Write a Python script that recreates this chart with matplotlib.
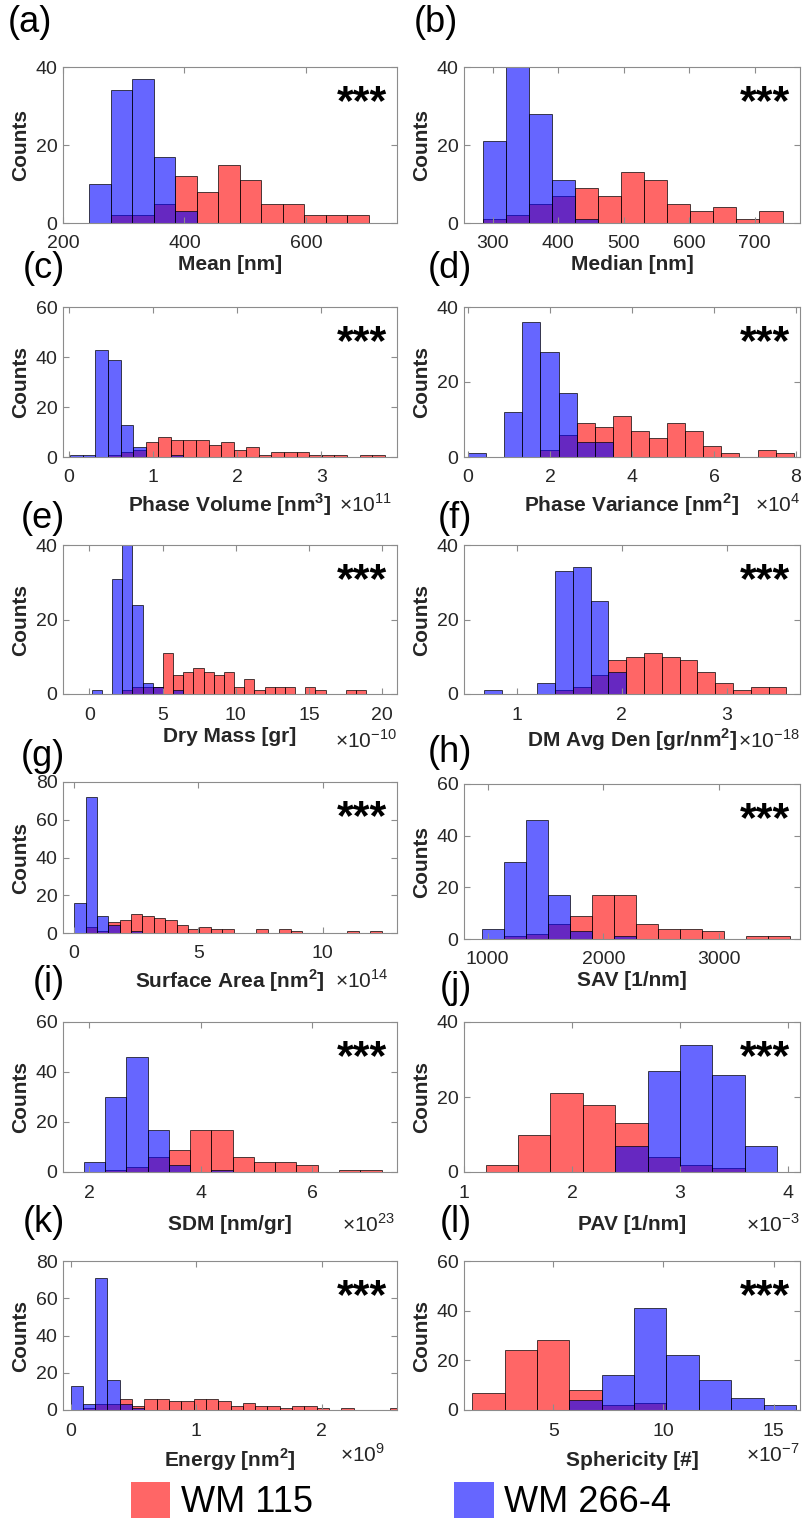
import numpy as np
import matplotlib.pyplot as plt
from matplotlib.patches import Patch

plt.rcParams['font.family'] = ['Liberation Sans', 'DejaVu Sans']
plt.rcParams['mathtext.fontset'] = 'custom'
plt.rcParams['mathtext.rm'] = 'Liberation Sans'
plt.rcParams['mathtext.bf'] = 'Liberation Sans:bold'

W, H = 802, 1533
nan = np.nan

# (a) Mean [nm]
mean_edges = 207.5 + 35.45 * np.arange(15)
mean_red = [nan, nan, 2, 2, 5, 12, 8, 15, 11, 5, 5, 2, 2, 2]
mean_blue = [0, 10, 34, 37, 17, 3] + [nan] * 8

# (b) Median [nm]
median_edges = 249.5 + 35.2 * np.arange(15)
median_red = [nan, 1, 2, 5, 7, 9, 7, 13, 11, 5, 3, 4, 1, 3]
median_blue = [0, 21, 40, 28, 11, 1] + [nan] * 8

# (c) Phase Volume x1e11
pvol_edges = 0.016 + 0.1495 * np.arange(26)
pvol_red = [nan] * 3 + [1, 2, 3, 6, 8, 7, 7, 7, 5, 6, 3, 4, 1, 2, 2, 2, 1, 1, 1, 0, 1, 1]
pvol_blue = [1, 1, 43, 39, 13, 4, 0, 0, 1] + [nan] * 16

# (d) Phase Variance x1e4
pvar_edges = 0.4415 * np.arange(19)
pvar_red = [nan] * 4 + [2, 6, 9, 8, 11, 7, 5, 9, 7, 3, 1, 0, 2, 1]
pvar_blue = [1, 0, 12, 36, 28, 17, 4, 4] + [nan] * 10

# (e) Dry Mass x1e-10
dm_edges = 0.16 + 0.694 * np.arange(28)
dm_red = [nan] * 3 + [1, 2, 2, 2, 11, 5, 6, 7, 6, 5, 6, 2, 4, 1, 2, 2, 2, 0, 2, 1, 0, 0, 1, 1]
dm_blue = [1, 0, 31, 40, 24, 3, 2, 0, 1] + [nan] * 18

# (f) DM Avg Den x1e-18
den_edges = 0.689 + 0.1695 * np.arange(18)
den_red = [nan] * 4 + [1, 2, 5, 9, 10, 11, 10, 9, 6, 3, 1, 2, 2]
den_blue = [1, 0, 0, 3, 33, 34, 25, 6] + [nan] * 9

# (g) Surface Area x1e14
sa_edges = 0.4585 * np.arange(28)
sa_red = [nan, 3, 1, 6, 7, 10, 9, 8, 7, 4, 2, 3, 2, 2, 0, 0, 2, 0, 2, 1, 0, 0, 0, 0, 1, 0, 1]
sa_blue = [16, 72, 9, 4, 0, 1] + [nan] * 21

# (h) SAV [1/nm]
sav_edges = 954 + 190 * np.arange(15)
sav_red = [nan, 1, 2, 6, 9, 17, 17, 6, 4, 4, 3, 0, 1, 1]
sav_blue = [4, 30, 46, 17, 3, 0, 1] + [nan] * 7

# (i) SDM x1e23
sdm_edges = 1.904 + 0.3813 * np.arange(15)
sdm_red = [nan, 1, 2, 6, 9, 17, 17, 6, 4, 4, 3, 0, 1, 1]
sdm_blue = [4, 30, 46, 17, 3, 0, 1] + [nan] * 7

# (j) PAV x1e-3
pav_edges = 1.2 + 0.3 * np.arange(11)
pav_red = [2, 10, 21, 18, 13, 4, 2, 1, nan, nan]
pav_blue = [nan] * 4 + [7, 27, 34, 26, 7, 0]

# (k) Energy x1e9
en_edges = 0.0 + 0.098 * np.arange(28)
en_red = [nan, 1, 3, 3, 6, 2, 6, 6, 5, 5, 6, 6, 5, 2, 4, 2, 2, 1, 2, 2, 1, 0, 1, 0, 0, 0, 1]
en_blue = [13, 3, 71, 16, 3, 1] + [nan] * 21

# (l) Sphericity x1e-7
sph_edges = 1.32 + 1.47 * np.arange(11)
sph_red = [7, 24, 28, 8, 2, 3, nan, nan, nan, nan]
sph_blue = [nan, nan, nan, 4, 14, 41, 22, 12, 5, 2]

panels = [
    # letter, edges, red, blue, xlim, xticks, ymax, xlabel, exponent, box(l, r, t, b)
    ('(a)', mean_edges, mean_red, mean_blue, (200, 750), [200, 400, 600], 40,
     'Mean [nm]', None, (63, 397, 67, 223)),
    ('(b)', median_edges, median_red, median_blue, (256, 769), [300, 400, 500, 600, 700], 40,
     'Median [nm]', None, (464, 800, 67, 223)),
    ('(c)', pvol_edges, pvol_red, pvol_blue, (-0.07, 3.9), [0, 1, 2, 3], 60,
     r'Phase Volume [nm$^{\mathbf{3}}$]', r'$\times10^{11}$', (63, 397, 307, 457)),
    ('(d)', pvar_edges, pvar_red, pvar_blue, (-0.1, 8.1), [0, 2, 4, 6, 8], 40,
     r'Phase Variance [nm$^{\mathbf{2}}$]', r'$\times10^{4}$', (464, 800, 307, 457)),
    ('(e)', dm_edges, dm_red, dm_blue, (-1.8, 21), [0, 5, 10, 15, 20], 40,
     'Dry Mass [gr]', r'$\times10^{-10}$', (63, 397, 545, 694)),
    ('(f)', den_edges, den_red, den_blue, (0.5, 3.7), [1, 2, 3], 40,
     r'DM Avg Den [gr/nm$^{\mathbf{2}}$]', r'$\times10^{-18}$', (464, 800, 545, 694)),
    ('(g)', sa_edges, sa_red, sa_blue, (-0.45, 13), [0, 5, 10], 80,
     r'Surface Area [nm$^{\mathbf{2}}$]', r'$\times10^{14}$', (63, 397, 782, 933)),
    ('(h)', sav_edges, sav_red, sav_blue, (795, 3700), [1000, 2000, 3000], 60,
     'SAV [1/nm]', None, (464, 800, 784, 939)),
    ('(i)', sdm_edges, sdm_red, sdm_blue, (1.53, 7.52), [2, 4, 6], 60,
     'SDM [nm/gr]', r'$\times10^{23}$', (63, 397, 1022, 1172)),
    ('(j)', pav_edges, pav_red, pav_blue, (1.0, 4.11), [1, 2, 3, 4], 40,
     'PAV [1/nm]', r'$\times10^{-3}$', (464, 800, 1022, 1172)),
    ('(k)', en_edges, en_red, en_blue, (-0.06, 2.6), [0, 1, 2], 80,
     r'Energy [nm$^{\mathbf{2}}$]', r'$\times10^{9}$', (63, 397, 1261, 1410)),
    ('(l)', sph_edges, sph_red, sph_blue, (0.95, 16.2), [5, 10, 15], 60,
     'Sphericity [#]', r'$\times10^{-7}$', (464, 800, 1261, 1410)),
]

# text positions (pixels): letter (x_right, y), xlabel y, exponent (x_right, y)
letter_pos = [(52, 22), (458, 22), (65, 268), (472, 268), (65, 518), (472, 518),
              (65, 756), (472, 752), (65, 983), (472, 988), (65, 1223), (472, 1223)]
xlabel_y = [265, 265, 505, 505, 736, 740, 981, 981, 1225, 1225, 1460, 1460]
exp_pos = [None, None, (392, 505), (800, 505), (397, 740), (800, 740),
           (388, 981), None, (395, 1225), (800, 1225), (385, 1455), (800, 1455)]

RED = (1, 0, 0, 0.6)
BLUE = (0, 0, 1, 0.6)
EDGE = (0, 0, 0, 0.7)
FRAME = '#8c8c8c'
TXT = '#262626'

fig = plt.figure(figsize=(W / 100, H / 100), dpi=100)


def fx(x):
    return x / W


def fy(y):
    return 1 - y / H


def draw_hist(ax, edges, counts, color):
    counts = np.asarray(counts, dtype=float)
    keep = ~np.isnan(counts)
    left = edges[:-1][keep]
    width = np.diff(edges)[keep]
    return ax.bar(left, counts[keep], width=width, align='edge', color=color,
                  edgecolor=EDGE, linewidth=0.7)


for i, (letter, edges, red, blue, xlim, xticks, ymax, xlab, expo, box) in enumerate(panels):
    l, r, t, b = box
    ax = fig.add_axes([fx(l), fy(b), (r - l) / W, (b - t) / H])
    draw_hist(ax, edges, red, RED)
    draw_hist(ax, edges, blue, BLUE)
    ax.set_xlim(*xlim)
    ax.set_ylim(0, ymax)
    ax.set_xticks(xticks)
    ax.set_yticks(np.arange(0, ymax + 1, 20))
    ax.tick_params(direction='in', length=4, top=True, right=True, labelsize=14,
                   color=FRAME, labelcolor=TXT, width=0.8)
    ax.tick_params(axis='x', pad=9)
    ax.tick_params(axis='y', pad=4)
    for s in ax.spines.values():
        s.set_color(FRAME)
        s.set_linewidth(0.8)

    cx = (l + r) / 2
    fig.text(fx(cx), fy(xlabel_y[i]), xlab, ha='center', va='center',
             fontsize=15, fontweight='bold', color=TXT)
    fig.text(fx(l - 42), fy((t + b) / 2), 'Counts', ha='center', va='center',
             rotation=90, fontsize=15, fontweight='bold', color=TXT)
    if exp_pos[i] is not None:
        ex, ey = exp_pos[i]
        fig.text(fx(ex), fy(ey), expo, ha='right', va='center', fontsize=15, color=TXT)
    lx, ly = letter_pos[i]
    fig.text(fx(lx), fy(ly), letter, ha='right', va='center', fontsize=26, color='black')
    fig.text(fx(r - 10), fy(t + 47), '***', ha='right', va='baseline',
             fontsize=31, fontweight='bold', color='black')

handles = [Patch(facecolor=RED, edgecolor='none'), Patch(facecolor=BLUE, edgecolor='none')]
fig.legend(handles, ['WM 115', 'WM 266-4'], loc='center', ncol=2,
           bbox_to_anchor=(fx(401), fy(1501)), frameon=False, fontsize=26,
           handlelength=1.1, handleheight=1.15, handletextpad=0.3, columnspacing=3.9)

fig.savefig('out.png', dpi=100)
